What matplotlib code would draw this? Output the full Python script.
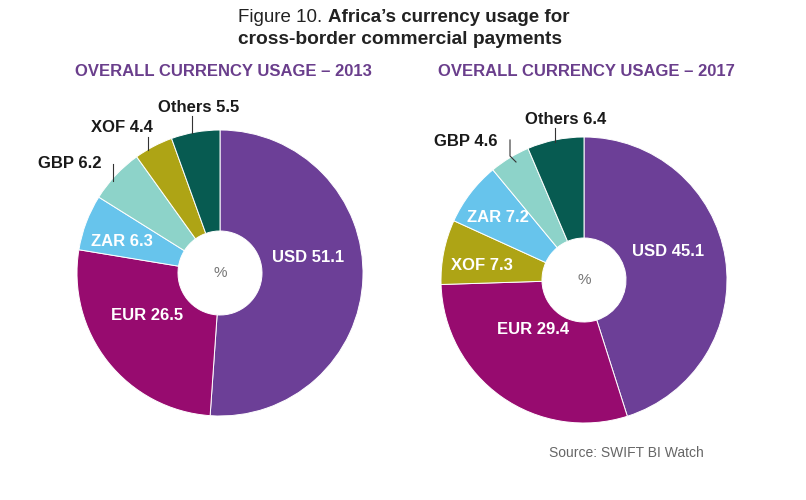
import numpy as np
import matplotlib.pyplot as plt

plt.rcParams['font.family'] = ['Liberation Sans', 'DejaVu Sans']

# data
years = ['2013', '2017']
labels_2013 = ['USD', 'EUR', 'ZAR', 'GBP', 'XOF', 'Others']
values_2013 = [51.1, 26.5, 6.3, 6.2, 4.4, 5.5]
labels_2017 = ['USD', 'EUR', 'XOF', 'ZAR', 'GBP', 'Others']
values_2017 = [45.1, 29.4, 7.3, 7.2, 4.6, 6.4]

colors = {'USD': '#6C3F97', 'EUR': '#970B6F', 'ZAR': '#67C4EC',
          'GBP': '#8DD3C9', 'XOF': '#AEA415', 'Others': '#075B51'}

W, H = 806, 500
fig = plt.figure(figsize=(W / 100, H / 100), dpi=100)
ax = fig.add_axes([0, 0, 1, 1])
ax.set_xlim(0, W)
ax.set_ylim(0, H)
ax.axis('off')

def py(y):
    # pixel row from top -> data y
    return H - y

# pie layout (pixels)
centers = [(220, 273), (584, 280)]
R, r_hole = 143, 42

inner = {  # labels drawn in white inside the ring
    '2013': {'USD': (308, 257), 'EUR': (147, 315), 'ZAR': (122, 242)},
    '2017': {'USD': (668, 252), 'EUR': (533, 330), 'ZAR': (498, 217), 'XOF': (482, 265)},
}
outer = {  # black labels with leader lines: text pos, line points
    '2013': {'Others': ((199, 108), [(192, 116), (192, 133)]),
             'XOF': ((122, 127), [(148, 137), (148, 150)]),
             'GBP': ((70, 163), [(113, 164), (113, 181)])},
    '2017': {'Others': ((566, 120), [(555, 128), (555, 142)]),
             'GBP': ((466, 142), [(510, 140), (510, 156), (516, 162)])},
}

for (cx, cy), year, labs, vals in zip(centers, years,
                                       [labels_2013, labels_2017],
                                       [values_2013, values_2017]):
    ax.pie(vals, colors=[colors[l] for l in labs], startangle=90,
           counterclock=False, radius=R, center=(cx, py(cy)), frame=True,
           wedgeprops=dict(width=R - r_hole, edgecolor='white', linewidth=0.7))
    ax.text(cx, py(cy), '%', ha='center', va='center', fontsize=11, color='#777777')
    for l, v in zip(labs, vals):
        if l in inner[year]:
            x, y = inner[year][l]
            ax.text(x, py(y), f'{l} {v}', ha='center', va='center',
                    fontsize=12, fontweight='bold', color='white')
        elif l in outer[year]:
            (x, y), pts = outer[year][l]
            ax.text(x, py(y), f'{l} {v}', ha='center', va='center',
                    fontsize=12, fontweight='bold', color='#1a1a1a')
            ax.plot([p[0] for p in pts], [py(p[1]) for p in pts],
                    color='#333333', lw=0.8)
    ax.text(cx + 3 if year == '2013' else cx + 2, py(72),
            f'OVERALL CURRENCY USAGE \u2013 {year}', ha='center', va='center',
            fontsize=12, fontweight='bold', color='#6A3E8C')

ax.set_xlim(0, W)
ax.set_ylim(0, H)
ax.set_aspect('auto')

# title, mixed weight on the first line
fig.canvas.draw()
renderer = fig.canvas.get_renderer()
t1 = ax.text(0, py(18), 'Figure 10. ', ha='left', va='center', fontsize=13.5,
             color='#222222')
t2 = ax.text(0, py(18), 'Africa\u2019s currency usage for', ha='left', va='center',
             fontsize=13.5, fontweight='bold', color='#222222')
w1 = t1.get_window_extent(renderer).width
w2 = t2.get_window_extent(renderer).width
x0 = 404 - (w1 + w2) / 2
t1.set_x(x0)
t2.set_x(x0 + w1)
ax.text(x0, py(39), 'cross-border commercial payments', ha='left', va='center',
        fontsize=13.8, fontweight='bold', color='#222222')

ax.text(626, py(453), 'Source: SWIFT BI Watch', ha='center', va='center',
        fontsize=10, color='#666666')

fig.savefig('out.png', dpi=100)
